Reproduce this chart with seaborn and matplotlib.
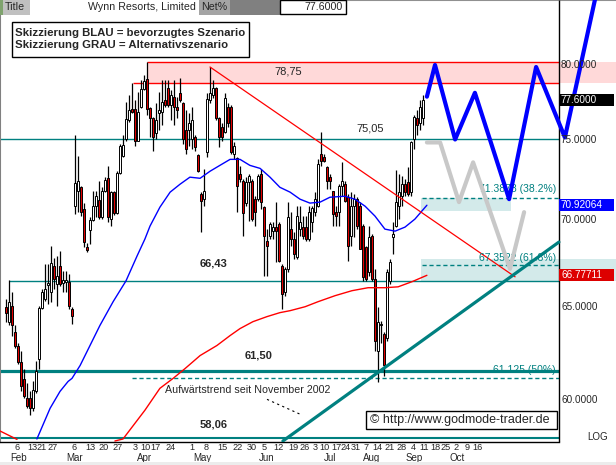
import numpy as np
import pandas as pd
import seaborn as sns
import matplotlib
matplotlib.use('Agg')
import matplotlib.pyplot as plt
from matplotlib.patches import Rectangle
from matplotlib.transforms import Affine2D

# daily candles, bar 0 = first trading day shown (early Feb)
opens = [65.00, 64.17, 65.06, 63.63, 62.87, 61.96, 61.07, 60.08, 60.08, 59.57,
         60.44, 62.17, 64.95, 65.45, 66.24, 65.84, 67.32, 66.29, 67.32, 66.35,
         66.41, 66.41, 64.89, 70.86, 71.78, 72.02, 70.68, 68.43, 69.42, 70.02,
         70.86, 71.23, 70.20, 71.78, 72.58, 70.08, 71.72, 70.44, 72.89, 73.96,
         75.04, 76.33, 77.05, 77.05, 74.97, 77.18, 78.38, 79.05, 77.11, 76.46,
         75.49, 76.79, 76.85, 77.65, 78.44, 77.32, 77.85, 77.18, 78.11, 77.45,
         75.68, 75.68, 75.04, 75.17, 74.02, 71.60, 71.29, 74.21, 77.65, 77.98,
         78.44, 76.46, 75.88, 75.55, 77.18, 77.18, 74.09, 73.83, 72.83, 72.40,
         71.05, 72.33, 72.40, 71.29, 71.29, 72.83, 70.80, 68.78, 69.07, 69.36,
         69.60, 69.78, 67.32, 65.84, 67.15, 69.48, 68.89, 67.85, 69.48, 69.60,
         69.60, 68.89, 69.90, 70.50, 70.86, 74.09, 73.90, 73.27, 72.65, 71.78,
         70.50, 70.50, 72.09, 72.21, 71.41, 69.07, 70.86, 71.29, 70.86, 69.66,
         68.43, 66.98, 69.07, 66.58, 62.55, 63.96, 63.52, 63.25, 66.46, 69.01,
         69.66, 70.86, 71.47, 72.21, 72.33, 71.72, 75.04, 76.46, 76.13, 76.46]
highs = [65.45, 66.52, 65.84, 63.96, 62.98, 62.55, 61.64, 60.86, 60.44, 60.96,
         62.06, 65.06, 66.01, 67.44, 67.44, 68.48, 67.79, 67.90, 68.19, 67.03,
         67.03, 66.87, 65.00, 75.30, 73.96, 72.09, 71.05, 68.66, 70.20, 71.78,
         71.78, 72.40, 72.02, 72.65, 73.33, 71.78, 71.78, 73.02, 74.72, 75.36,
         77.52, 77.98, 78.78, 77.65, 78.18, 78.98, 79.32, 80.21, 77.18, 76.52,
         77.45, 78.18, 78.98, 78.98, 78.98, 78.31, 78.98, 77.85, 79.12, 77.51,
         76.98, 76.79, 77.18, 75.36, 74.09, 71.72, 73.14, 78.11, 79.86, 78.98,
         78.51, 76.52, 76.13, 78.11, 77.45, 77.32, 74.85, 73.90, 73.33, 72.52,
         72.65, 72.83, 72.52, 71.47, 72.83, 73.14, 70.86, 69.48, 69.90, 69.90,
         71.11, 69.90, 67.44, 67.27, 71.11, 70.50, 69.30, 70.86, 70.86, 70.26,
         70.26, 70.86, 70.86, 71.72, 73.77, 75.55, 74.09, 73.33, 72.83, 71.78,
         70.86, 72.21, 73.58, 72.40, 71.60, 71.72, 71.60, 71.41, 71.11, 69.78,
         68.48, 69.66, 69.19, 67.15, 65.00, 64.23, 63.63, 67.15, 67.73, 69.90,
         73.08, 72.83, 72.71, 72.52, 73.27, 74.91, 76.65, 76.98, 77.65, 77.98]
lows = [64.17, 64.01, 63.41, 62.71, 61.90, 60.44, 60.08, 59.57, 59.21, 59.42,
        60.34, 61.64, 64.89, 65.34, 65.17, 65.28, 66.01, 65.06, 66.18, 65.84,
        65.84, 64.89, 64.06, 70.38, 70.50, 70.26, 68.43, 68.14, 68.60, 69.96,
        70.20, 70.08, 70.08, 71.72, 69.90, 69.66, 70.32, 70.38, 72.83, 73.90,
        74.91, 76.20, 76.79, 74.59, 74.91, 77.11, 78.31, 76.65, 75.17, 74.27,
        75.04, 75.68, 76.00, 77.18, 77.18, 76.33, 76.00, 76.46, 77.51, 74.72,
        74.09, 74.59, 74.40, 74.27, 72.96, 69.30, 70.86, 73.90, 77.45, 77.78,
        76.33, 74.53, 74.91, 75.49, 75.88, 74.09, 73.77, 70.50, 72.33, 69.07,
        70.86, 69.96, 69.96, 69.66, 71.17, 70.68, 66.75, 66.75, 68.89, 68.89,
        67.56, 67.56, 64.89, 65.62, 66.98, 68.48, 67.73, 67.73, 69.07, 68.89,
        68.78, 68.78, 69.30, 70.26, 70.80, 73.33, 73.58, 71.90, 71.90, 69.66,
        69.66, 69.66, 71.47, 71.11, 67.61, 68.48, 69.01, 69.48, 68.31, 66.46,
        66.46, 66.75, 66.46, 62.55, 60.91, 62.98, 61.23, 63.09, 66.29, 68.02,
        69.60, 70.08, 70.86, 71.47, 71.47, 71.47, 74.40, 75.36, 75.68, 76.00]
closes = [64.67, 65.28, 63.96, 62.87, 61.96, 60.70, 60.18, 59.67, 59.57, 60.50,
          61.49, 64.95, 65.84, 66.01, 66.35, 67.50, 66.58, 66.75, 66.29, 66.52,
          66.52, 65.06, 64.50, 72.27, 72.40, 70.50, 68.71, 68.25, 70.02, 70.86,
          71.47, 70.20, 71.78, 72.46, 70.20, 71.72, 70.44, 72.89, 74.59, 74.66,
          76.40, 76.98, 76.85, 74.91, 76.85, 78.38, 78.91, 77.05, 76.46, 75.23,
          76.33, 76.98, 77.51, 77.32, 77.32, 77.98, 77.18, 76.98, 77.65, 75.04,
          74.40, 76.13, 76.33, 74.53, 73.02, 71.17, 71.78, 77.71, 78.11, 78.44,
          76.46, 75.23, 75.23, 77.78, 76.13, 74.21, 74.59, 72.09, 72.52, 70.44,
          72.33, 72.71, 70.08, 70.50, 72.71, 71.11, 69.07, 68.48, 69.78, 69.60,
          69.36, 67.61, 65.73, 67.15, 70.20, 68.89, 68.02, 70.26, 69.90, 69.07,
          68.89, 70.50, 70.74, 71.29, 73.45, 73.64, 73.64, 72.40, 72.40, 70.38,
          70.26, 72.09, 72.40, 71.17, 68.48, 70.86, 71.29, 69.66, 68.31, 66.69,
          66.58, 69.01, 66.58, 63.09, 64.17, 64.06, 61.80, 66.98, 67.56, 69.19,
          71.11, 71.72, 72.21, 71.72, 71.60, 74.85, 76.52, 76.00, 77.18, 77.60]

# moving averages, read at sampled bars
ma_blue_x = [10.3, 14.7, 18, 20.7, 22, 24.7, 28, 31.3, 35.7, 40, 43.7, 46.3, 48,
             51.3, 54.7, 58, 61.3, 64.7, 68, 71.3, 74.7, 78, 81.3, 84.7, 88, 91.3,
             94.7, 98, 101.3, 104.7, 108, 113, 116.3, 119.7, 123, 126.3, 129.7,
             133, 136.3, 140.3]
ma_blue_y = [58.02, 59.57, 60.44, 60.96, 61.12, 61.80, 62.87, 63.96, 65.28, 66.46,
             67.90, 68.89, 69.66, 70.80, 71.72, 72.21, 72.65, 72.58, 73.02, 73.39,
             73.77, 73.77, 73.39, 73.20, 72.65, 72.02, 71.72, 71.29, 71.05, 71.11,
             71.41, 71.47, 71.29, 70.86, 70.26, 69.48, 69.36, 69.60, 70.08, 70.92064]
ma_red_x = [36.3, 39, 46.3, 51.3, 55.7, 59.7, 64.7, 70.3, 74.7, 78, 82.3, 87, 91.3,
            94.7, 99.7, 104, 109.7, 115.3, 120.7, 126.3, 130.7, 135.3, 140.3]
ma_red_y = [57.92, 58.02, 59.47, 60.60, 61.12, 61.64, 62.33, 62.87, 63.41, 63.79,
            64.17, 64.45, 64.67, 64.78, 65.00, 65.28, 65.62, 65.90, 66.07, 66.07,
            66.12, 66.41, 66.77711]

# price levels
levels_teal = [75.05, 66.43, 61.50, 58.06]
zone_low, zone_high = 78.75, 80.21
fib_levels = [71.3878, 67.3522, 61.125]
fib_labels = ['71.3878 (38.2%)', '67.3522 (61.8%)', '61.125 (50%)']

# trend lines (bar, price)
down_x, down_y = [68, 169.7], [79.86, 66.69]
up_x, up_y = [92.3, 184.3], [57.92, 68.71]

# scenarios
blue_x = [140.3, 143, 149.7, 156.3, 167.7, 176.7, 186.3, 197]
blue_y = [77.85, 80.0, 75.04, 78.11, 71.29, 79.86, 75.17, 85.3]
gray_x = [140.3, 144.7, 151, 155.7, 168, 172.7]
gray_y = [74.85, 74.85, 71.11, 73.58, 67.15, 70.50]

# axis labels
day_pos = [3.8, 8.7, 11.9, 15.4, 22.7, 28, 32.7, 37.3, 43, 46.4, 49.8, 54.7, 62,
           66.7, 72, 77.3, 82, 86, 90.7, 95.7, 99.7, 103, 106, 110, 113.3, 116.7,
           120, 123.7, 128, 132, 135.7, 139.3, 143, 146.7, 150, 153.7, 157.3]
day_labels = ['6', '13', '21', '27', '6', '13', '20', '27', '3', '10', '17', '24',
              '1', '8', '15', '22', '30', '5', '12', '19', '26', '3', '10', '17',
              '24', '31', '7', '14', '21', '28', '4', '11', '18', '25', '2', '9', '16']
month_pos = [4.3, 23, 46.3, 65.3, 87, 108, 122, 136, 150.3]
month_labels = ['Feb', 'Mar', 'Apr', 'May', 'Jun', 'Jul', 'Aug', 'Sep', 'Oct']
price_ticks = [80, 75, 70, 65, 60]
last_close, last_blue, last_red = 77.60, 70.92064, 66.77711

TEAL = '#008080'
SEP = 184.33

sns.set_theme(style='white')
plt.rcParams['font.family'] = ['Liberation Sans', 'DejaVu Sans']

W, H = 616, 465
fig = plt.figure(figsize=(W / 100, H / 100), dpi=100)
ax = fig.add_axes([0, 23 / H, 1, 442 / H])
ax.set_yscale('log')
ax.set_xlim(-2, 203.33)
ax.set_ylim(57.87, 84.59)
ax.set_yticks([])
ax.set_yticks([], minor=True)
pix = Affine2D().scale(1 / W, -1 / H).translate(0, 1) + fig.transFigure

# background zones
ax.fill_between([47, 203.33], zone_low, zone_high, color='#ffd9d9', lw=0, zorder=1)
ax.fill_between([138.33, 168.33], 70.56, fib_levels[0], color='#d3eaea', lw=0, zorder=1)
ax.fill_between([138.33, 203.33], 66.47, 67.73, color='#d3eaea', lw=0, zorder=1)
ax.hlines(zone_high, 47, SEP, color='red', lw=1, zorder=2)
ax.hlines(zone_low, 42.33, SEP, color='red', lw=1, zorder=2)

# support / resistance
ax.hlines(levels_teal[0], -2, SEP, color=TEAL, lw=1, zorder=2)
ax.hlines(levels_teal[1], 1, SEP, color=TEAL, lw=1, zorder=2)
ax.hlines(levels_teal[2], -2, SEP, color=TEAL, lw=2.3, zorder=2)
ax.hlines(levels_teal[3], -2, SEP, color=TEAL, lw=1.5, zorder=2)
ax.hlines(fib_levels[:2], 138.67, SEP, color=TEAL, lw=1, linestyles=(0, (3, 2)), zorder=2)
ax.hlines(fib_levels[2], 42, SEP, color=TEAL, lw=1, linestyles=(0, (3, 2)), zorder=2)
ax.vlines(SEP, 57.87, 84.59, color='black', lw=1, zorder=3)

# candles
df = pd.DataFrame({'o': opens, 'h': highs, 'l': lows, 'c': closes})
df['i'] = np.arange(len(df))
up = df['c'] >= df['o']
ax.vlines(df['i'], df['l'], df['h'], color='black', lw=0.9, zorder=4)
ax.bar(df['i'], (df['c'] - df['o']).abs().clip(lower=0.05),
       bottom=df[['o', 'c']].min(axis=1), width=0.85,
       color=['white' if u else '#e00000' for u in up],
       edgecolor='black', linewidth=0.7, zorder=5)

# averages and trend lines
sns.lineplot(x=ma_blue_x, y=ma_blue_y, ax=ax, color='#0000ff', lw=1, zorder=6)
sns.lineplot(x=ma_red_x, y=ma_red_y, ax=ax, color='red', lw=1, zorder=6)
ax.plot([-2, 3.67], [58.42, 58.0], color='red', lw=1, zorder=6)
ax.plot(down_x, down_y, color='red', lw=0.9, zorder=6)
ax.plot(up_x, up_y, color=TEAL, lw=2.3, zorder=6)
ax.plot([87, 98], [60.03, 59.27], color='black', lw=0.8, ls=(0, (2, 3)), zorder=6)

# scenarios
sns.lineplot(x=gray_x, y=gray_y, ax=ax, sort=False, color='#c8c8c8', lw=3, zorder=7)
sns.lineplot(x=blue_x, y=blue_y, ax=ax, sort=False, color='#0000ff', lw=3, zorder=7)

# level annotations
ax.text(94, 79.52, '78,75', ha='center', va='center', fontsize=8, zorder=8)
ax.text(121.3, 75.74, '75,05', ha='center', va='center', fontsize=8, zorder=8)
ax.text(69.3, 67.44, '66,43', ha='center', va='center', fontsize=8, weight='bold', zorder=8)
ax.text(84.3, 62.33, '61,50', ha='center', va='center', fontsize=8, weight='bold', zorder=8)
ax.text(69.3, 58.76, '58,06', ha='center', va='center', fontsize=8, weight='bold', zorder=8)
ax.text(53, 60.50, 'Aufwärtstrend seit November 2002', ha='left', va='center',
        fontsize=7.7, zorder=8)
for lv, lab, yy in zip(fib_levels, fib_labels, [71.90, 67.79, 61.54]):
    ax.text(183.3, yy, lab, ha='right', va='center', fontsize=7.5, color=TEAL, zorder=6.5)

# price scale inside the right strip
for p in price_ticks:
    ax.text(185, p, f'{p:.4f}', ha='left', va='center', fontsize=7.2, zorder=8)
for val, txt, fc in [(last_close, '77.6000', 'black'), (last_blue, '70.92064', '#0000ff'),
                     (last_red, '66.77711', '#dd0000')]:
    ax.add_patch(Rectangle((SEP, val / 1.0052), 202.7 - SEP, val * 1.0052 - val / 1.0052,
                           fc=fc, ec='none', zorder=8))
    ax.text(185, val, txt, ha='left', va='center', fontsize=7.2, color='white', zorder=9)

# axes frame
ax.spines['right'].set_visible(False)
ax.spines['bottom'].set_bounds(-2, SEP)
ax.spines['bottom'].set_color('black')
ax.spines['bottom'].set_linewidth(1)
ax.spines['left'].set_color('#808080')
ax.spines['left'].set_linewidth(1.5)
ax.spines['top'].set_color('#909090')
ax.spines['top'].set_linewidth(1.5)
ax.set_xticks(day_pos, labels=day_labels)
ax.tick_params(axis='x', length=0, pad=1, labelsize=6.6)
for mp, ml in zip(month_pos, month_labels):
    ax.text(mp, -0.036, ml, transform=ax.get_xaxis_transform(), ha='center',
            va='center', fontsize=7)

# header bar
def cell(x0, y0, x1, y1, fc, ec='none'):
    fig.add_artist(Rectangle((x0, y0), x1 - x0, y1 - y0, transform=pix, fc=fc,
                             ec=ec, lw=1, zorder=10))

cell(0, 0, 3, 15, '#7fa36e')
cell(3, 0, 30, 15, '#c0c0c0')
cell(30, 0, 199, 15, 'white')
cell(199, 0, 230, 15, '#a4a4a4')
cell(230, 0, 280, 15, '#808080')
cell(280, 0.5, 346, 14, 'white', 'black')
fig.text(5, 7.5, 'Title', transform=pix, va='center', fontsize=7.7, zorder=11)
fig.text(196, 7.5, 'Wynn Resorts, Limited', transform=pix, ha='right', va='center',
         fontsize=7.7, zorder=11)
fig.text(201, 7.5, 'Net%', transform=pix, va='center', fontsize=7.7, zorder=11)
fig.text(343, 7.5, '77.6000', transform=pix, ha='right', va='center', fontsize=7.7, zorder=11)

# legend box
cell(12, 22, 249, 57, 'white', 'black')
fig.text(15, 33, 'Skizzierung BLAU = bevorzugtes Szenario', transform=pix, va='center',
         fontsize=8.2, weight='bold', zorder=11)
fig.text(15, 44.5, 'Skizzierung GRAU = Alternativszenario', transform=pix, va='center',
         fontsize=8.2, weight='bold', zorder=11)

# copyright box
cell(366, 411, 557, 429, 'white', 'black')
fig.text(370, 420, '© http://www.godmode-trader.de', transform=pix, va='center',
         fontsize=9, zorder=11)
fig.text(608, 437, 'LOG', transform=pix, ha='right', va='center', fontsize=7, zorder=11)
cell(0, 462, 616, 465, '#ececec')

fig.savefig('out.png', dpi=100)
